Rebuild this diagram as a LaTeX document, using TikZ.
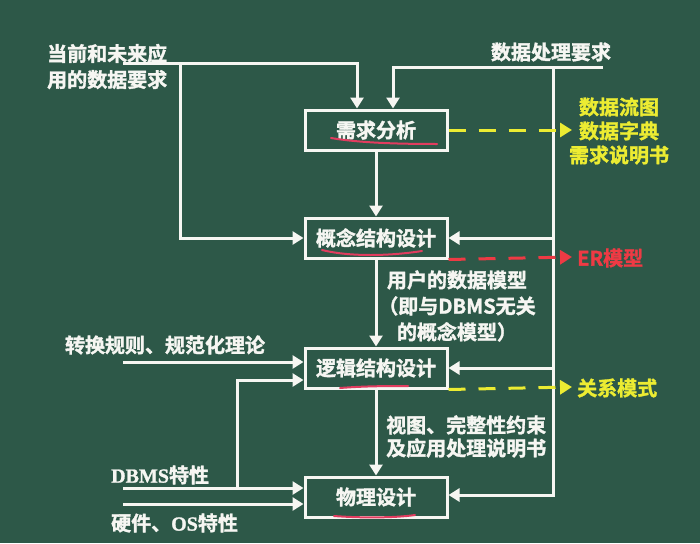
\documentclass[tikz,border=0pt]{standalone}
\usepackage{fontspec}
\newfontfamily\cjk{Noto Sans CJK SC Bold}[FakeBold=1.6]
\newfontfamily\latinserif{Liberation Serif Bold}[FakeBold=1.2]
\usetikzlibrary{arrows.meta,calc}
\definecolor{board}{RGB}{45,88,72}
\definecolor{chalk}{RGB}{246,246,242}
\definecolor{ylw}{RGB}{236,236,50}
\definecolor{rdd}{RGB}{238,58,68}
\definecolor{pinkmark}{RGB}{225,60,95}
\begin{document}
\begin{tikzpicture}[x=1pt,y=-1pt,
  every node/.style={font=\cjk\fontsize{20}{26}\selectfont, text=chalk, inner sep=0pt},
  box/.style={draw=chalk, line width=3pt, minimum width=142pt, minimum height=40pt},
  conn/.style={draw=chalk, line width=3pt},
  arr/.style={conn, -{Triangle[length=11pt,width=13pt]}},
  ydash/.style={draw=ylw, line width=3pt, dash pattern=on 17pt off 13pt, -{Triangle[length=12pt,width=14pt]}},
  rdash/.style={draw=rdd, line width=3pt, dash pattern=on 17pt off 13pt, -{Triangle[length=12pt,width=14pt]}},
  inkline/.style={draw=pinkmark, line width=2pt, line cap=round}]
\fill[board] (0,0) rectangle (700,543);
\useasboundingbox (0,0) rectangle (700,543);

% design stages
\node[box] (req) at (376,130) {需求分析};
\node[box] (con) at (376,238) {概念结构设计};
\node[box] (log) at (376,368) {逻辑结构设计};
\node[box] (phy) at (376,497) {物理设计};

% handwritten underlines
\draw[inkline] (331,138) .. controls (360,143) and (400,144) .. (437,144);
\draw[inkline] (322,250) .. controls (350,257) and (390,256) .. (422,251);
\draw[inkline] (340,388) .. controls (365,386) and (390,386) .. (408,386);
\draw[inkline] (334,516) .. controls (360,518) and (395,518) .. (415,515);

% external inputs
\node[anchor=west, align=left] (appreq) at (47,66.5) {当前和未来应\\用的数据要求};
\node (procreq) at (551,52) {数据处理要求};
\node (rules) at (165,345) {转换规则、规范化理论};
\node[anchor=west] (dbms) at (111,475) {{\latinserif DBMS}特性};
\node[anchor=west] (hwos) at (111,523) {硬件、{\latinserif OS}特性};

\coordinate (appstart) at (123,63);
\coordinate (appsplit) at (180,63);
\coordinate (procstart) at (603,67);
\coordinate (procsplit) at (553,67);
\coordinate (rulestart) at (123,362);
\coordinate (dbmsstart) at (123,488);
\coordinate (dbmssplit) at (237,488);
\coordinate (hwstart) at (123,504);

\draw[arr] (appstart) -| ([xshift=-19pt]req.north);
\draw[arr] (appsplit) |- (con.west);
\draw[arr] (procstart) -| ([xshift=17pt]req.north);
\draw[arr] (procsplit) |- (con.east);
\draw[arr] (procsplit) |- (log.east);
\draw[arr] (procsplit) |- ([yshift=2pt]phy.east);
\draw[arr] (rulestart) -- (rulestart -| log.west);
\draw[arr] (dbmssplit) |- ([yshift=-12pt]log.west);
\draw[arr] (dbmsstart) -- (dbmsstart -| phy.west);
\draw[arr] (hwstart) -- (hwstart -| phy.west);

% flow between stages
\draw[arr] (req.south) -- (con.north);
\draw[arr] (con.south) -- (log.north);
\draw[arr] (log.south) -- (phy.north);

\node (usermodel) at (457,306) [align=center] {用户的数据模型\\（即与DBMS无关\\的概念模型）};
\node[anchor=west, align=left, font=\cjk\fontsize{20}{23}\selectfont] (views) at (386,436.5) {视图、完整性约束\\及应用处理说明书};

% outputs
\coordinate (reqout) at (572,130);
\coordinate (conout) at (572,257);
\coordinate (logout) at (572,387);
\draw[ydash] (req.east) -- (reqout);
\draw[rdash] (con.south east) -- (conout);
\draw[ydash] (log.south east) -- (logout);

\node[text=ylw, align=center, font=\cjk\fontsize{20}{24}\selectfont] (docs) at (619,131) {数据流图\\数据字典\\需求说明书};
\node[text=rdd, anchor=west] (er) at (577,258) {ER模型};
\node[text=ylw, anchor=west] (rel) at (577,388) {关系模式};
\end{tikzpicture}
\end{document}
